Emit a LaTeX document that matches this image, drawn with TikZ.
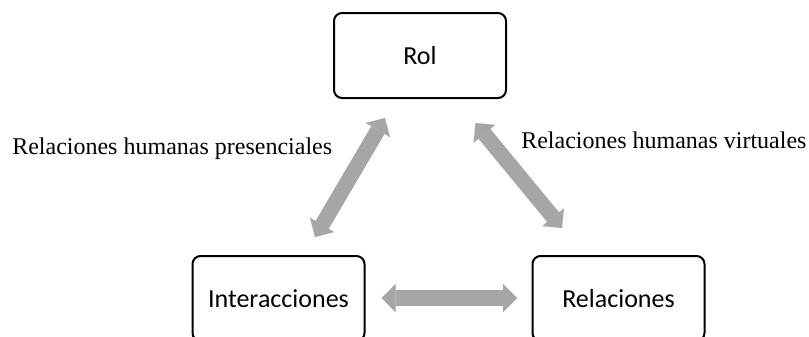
\documentclass[tikz,border=0pt]{standalone}
\usepackage{fontspec}
\setmainfont{Liberation Serif}
\newfontfamily\boxfont{Carlito}
\usetikzlibrary{arrows.meta}
\definecolor{arrowgray}{HTML}{A6A6A6}
\tikzset{
  boxnode/.style={draw=black, line width=1.5pt, rounded corners=6pt, fill=white,
    minimum width=129pt, minimum height=63.75pt, inner sep=0pt,
    font=\boxfont\fontsize{19.5pt}{23pt}\selectfont},
  lbl/.style={inner sep=0pt, anchor=base west, font=\fontsize{18pt}{21pt}\selectfont},
  bigarrow/.style={draw=arrowgray, line width=11.5pt,
    {Triangle[width=21pt,length=10.5pt,line width=0.01pt]}-{Triangle[width=21pt,length=10.5pt,line width=0.01pt]}}
}
\begin{document}
\begin{tikzpicture}[x=0.75pt,y=-0.75pt]
\useasboundingbox (0,0) rectangle (809,336);
\clip (0,0) rectangle (809,336);
\node[boxnode] (rol) at (420,55.5) {Rol};
\node[boxnode] (inter) at (278.5,298.5) {Interacciones};
\node[boxnode] (rel) at (618.5,298.5) {Relaciones};
\node[lbl] (lpres) at (12,154) {Relaciones humanas presenciales};
\node[lbl] (lvirt) at (521,148) {Relaciones humanas virtuales};
\coordinate (a1) at (385,118);
\coordinate (a2) at (315,237);
\coordinate (b1) at (475.5,123);
\coordinate (b2) at (562,228);
\coordinate (c1) at (381.5,298);
\coordinate (c2) at (517,298);
\draw[bigarrow] (a1) -- (a2);
\draw[bigarrow] (b1) -- (b2);
\draw[bigarrow] (c1) -- (c2);
\end{tikzpicture}
\end{document}
